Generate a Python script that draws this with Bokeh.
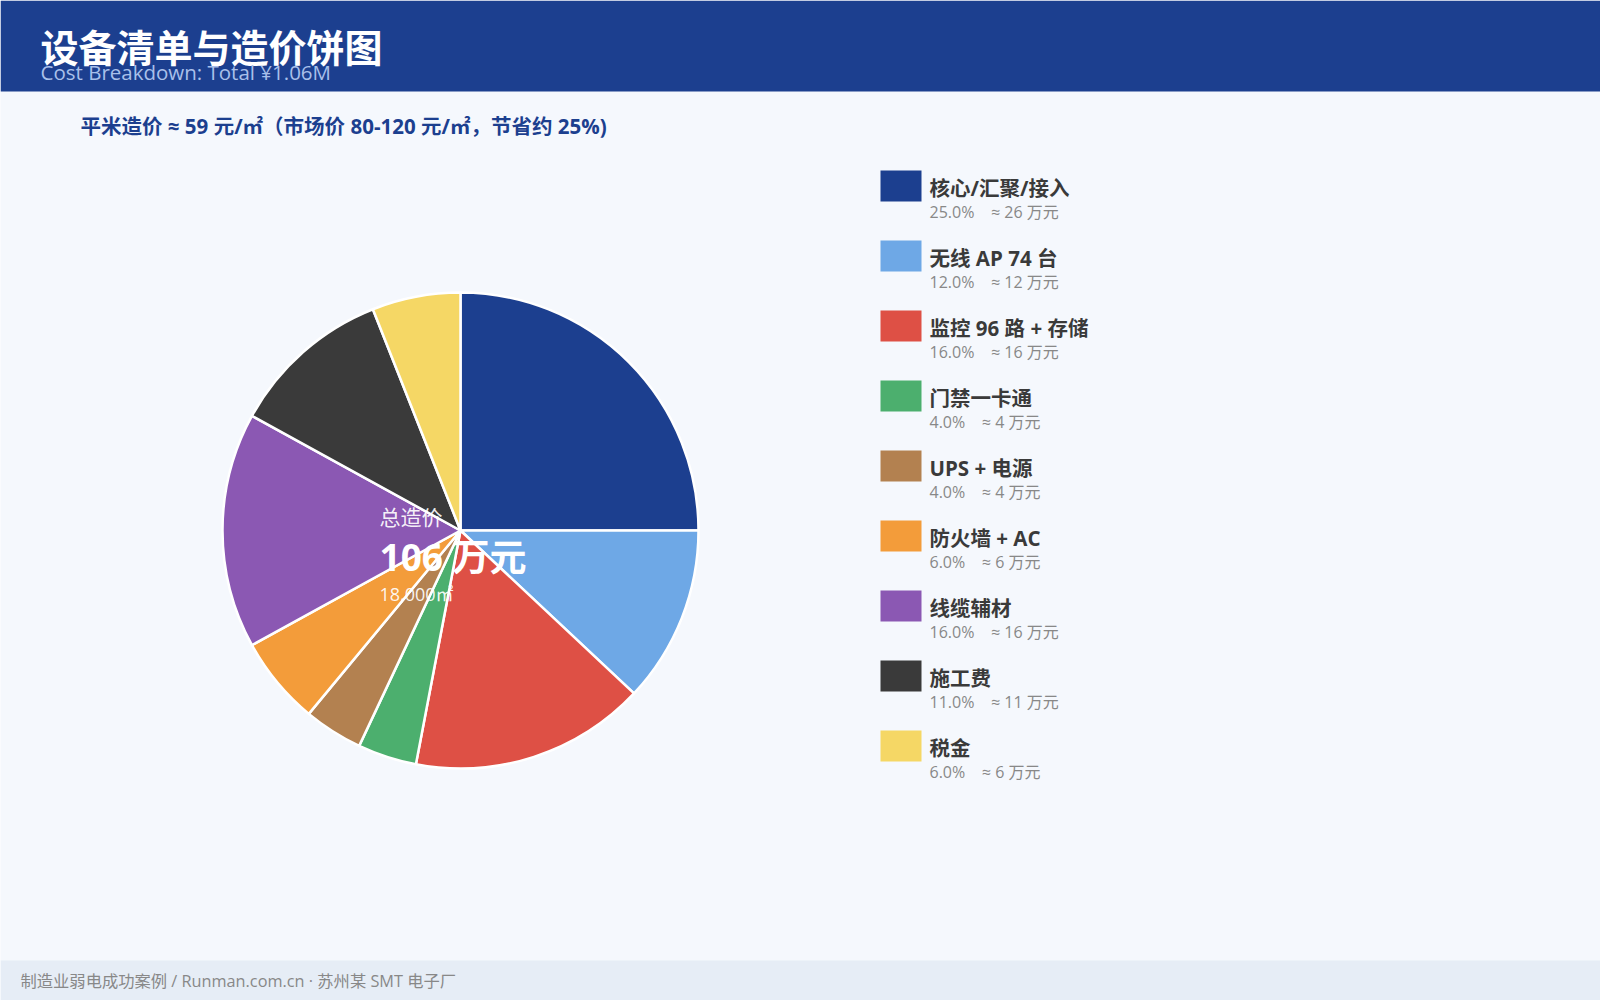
import math
from bokeh.plotting import figure
from bokeh.models import Range1d, ColumnDataSource
from bokeh.core.properties import value
from bokeh.embed import file_html
from bokeh.resources import INLINE

# ---- data ----
categories = ["核心/汇聚/接入", "无线 AP 74 台", "监控 96 路 + 存储", "门禁一卡通", "UPS + 电源",
              "防火墙 + AC", "线缆辅材", "施工费", "税金"]
shares = [25.0, 12.0, 16.0, 4.0, 4.0, 6.0, 16.0, 11.0, 6.0]
amounts_wan = [26, 12, 16, 4, 4, 6, 16, 11, 6]
colors = ["#1c3f8f", "#6ea8e6", "#de5045", "#4caf6e", "#b38150",
          "#f39c3a", "#8b58b3", "#3a3a3a", "#f5d765"]
title_text = "设备清单与造价饼图"
subtitle_text = "Cost Breakdown: Total ¥1.06M"
note_text = "平米造价 ≈ 59 元/㎡（市场价 80-120 元/㎡，节省约 25%)"
center_labels = ["总造价", "106 万元", "18,000㎡"]
footer_text = "制造业弱电成功案例 / Runman.com.cn · 苏州某 SMT 电子厂"

W, H = 1600, 1000
FONT = value("'Open Sans', 'Noto Sans CJK SC', sans-serif")

p = figure(width=W, height=H, x_range=Range1d(0, W), y_range=Range1d(0, H),
           output_backend="svg", toolbar_location=None, min_border=0)
p.axis.visible = False
p.grid.visible = False
p.outline_line_color = None
p.background_fill_color = "#f5f8fd"
p.border_fill_color = "#f5f8fd"

def Y(y):
    return H - y

# header band
p.quad(left=0, right=W, top=Y(0), bottom=Y(91), fill_color="#1c3f8f", line_color=None)
# footer band
p.quad(left=0, right=W, top=Y(960), bottom=Y(1000), fill_color="#e6edf6", line_color=None)

p.text(x=[40], y=[Y(46)], text=[title_text], text_font=FONT, text_font_size="38px",
       text_font_style="bold", text_color="white", text_baseline="middle")
p.text(x=[40], y=[Y(71)], text=[subtitle_text], text_font=FONT, text_font_size="20.5px",
       text_color="#a9c0ea", text_baseline="middle")
p.text(x=[80], y=[Y(125)], text=[note_text], text_font=FONT, text_font_size="20.5px",
       text_font_style="bold", text_color="#1c3f8f", text_baseline="middle")

# pie
total = sum(shares)
starts, ends = [], []
cum = 0.0
for s in shares:
    starts.append(math.pi / 2 - 2 * math.pi * cum / total)
    cum += s
    ends.append(math.pi / 2 - 2 * math.pi * cum / total)
src = ColumnDataSource(dict(start=starts, end=ends, color=colors))
p.wedge(x=460, y=Y(530), radius=238, start_angle="start", end_angle="end", direction="clock",
        fill_color="color", line_color="white", line_width=2.5, source=src)

# center labels
p.text(x=[379], y=[Y(516)], text=[center_labels[0]], text_font=FONT, text_font_size="21px",
       text_color="white", text_alpha=0.92, text_baseline="middle")
p.text(x=[379], y=[Y(556)], text=[center_labels[1]], text_font=FONT, text_font_size="37px",
       text_font_style="bold", text_color="white", text_baseline="middle")
p.text(x=[379], y=[Y(593)], text=[center_labels[2]], text_font=FONT, text_font_size="18px",
       text_color="white", text_alpha=0.92, text_baseline="middle")

# legend
sw_top = [170 + 70 * i for i in range(len(categories))]
p.quad(left=[880] * len(categories), right=[921] * len(categories),
       top=[Y(t) for t in sw_top], bottom=[Y(t + 31) for t in sw_top],
       fill_color=colors, line_color=None)
p.text(x=[929] * len(categories), y=[Y(t + 17) for t in sw_top], text=categories,
       text_font=FONT, text_font_size="20.5px", text_font_style="bold",
       text_color="#3a3a3a", text_baseline="middle")
NB = "\u00a0"
subs = [f"{s:.1f}%{NB * 4}≈{NB}{a} 万元" for s, a in zip(shares, amounts_wan)]
p.text(x=[929] * len(categories), y=[Y(t + 41) for t in sw_top], text=subs,
       text_font=FONT, text_font_size="16px", text_color="#888888", text_baseline="middle")

# footer
p.text(x=[20], y=[Y(980)], text=[footer_text], text_font=FONT, text_font_size="16.3px",
       text_color="#888888", text_baseline="middle")

open("out.html", "w").write(file_html(p, INLINE))
